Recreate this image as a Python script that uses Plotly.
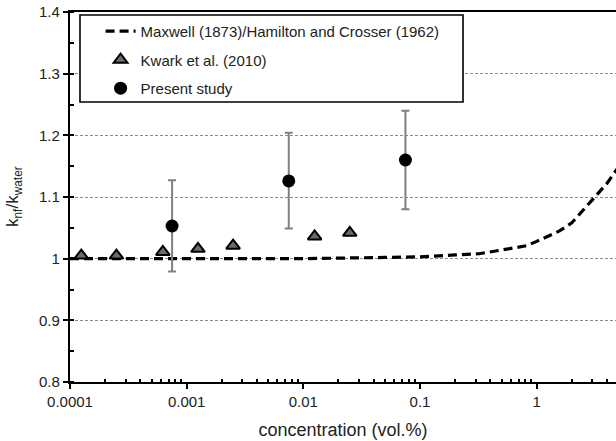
import plotly.graph_objects as go

# Maxwell / Hamilton-Crosser curve
maxwell_x = [0.0001, 0.001, 0.01, 0.05, 0.1, 0.2, 0.32, 0.5, 0.82, 1.0, 1.57, 2.0, 3.0, 4.0, 5.0]
maxwell_y = [1.000, 1.000, 1.000, 1.002, 1.003, 1.006, 1.008, 1.014, 1.021, 1.028, 1.045, 1.058, 1.096, 1.122, 1.148]

# Kwark et al. (2010)
kwark_x = [0.000125, 0.00025, 0.000625, 0.00125, 0.0025, 0.0125, 0.025]
kwark_y = [1.005, 1.005, 1.011, 1.016, 1.021, 1.036, 1.042]

# Present study
present_x = [0.00075, 0.0075, 0.075]
present_y = [1.053, 1.126, 1.160]
present_err_plus = [0.074, 0.078, 0.080]
present_err_minus = [0.074, 0.077, 0.080]

x_tickvals = [0.0001, 0.001, 0.01, 0.1, 1]
x_ticktext = ["0.0001", "0.001", "0.01", "0.1", "1"]
x_minor = [k * 10.0 ** e for e in range(-4, 1) for k in range(2, 10)]

FONT = "Liberation Sans, Arial, sans-serif"

fig = go.Figure()
fig.add_trace(go.Scatter(
    x=maxwell_x, y=maxwell_y, mode="lines",
    name="Maxwell (1873)/Hamilton and Crosser (1962)",
    line=dict(color="black", width=3.2, dash="9px,5px"),
    legendgroup="a",
))
fig.add_trace(go.Scatter(
    x=kwark_x, y=kwark_y, mode="markers", name="Kwark et al. (2010)",
    marker=dict(symbol="triangle-up", size=12, color="#6b6b6b",
                line=dict(color="black", width=2)),
    legendgroup="b",
))
fig.add_trace(go.Scatter(
    x=present_x, y=present_y, mode="markers", name="Present study",
    marker=dict(symbol="circle", size=13, color="black"),
    error_y=dict(type="data", array=present_err_plus, arrayminus=present_err_minus,
                 color="#808080", thickness=2, width=4),
    legendgroup="c",
))

fig.update_layout(
    width=616, height=441,
    margin=dict(l=70, r=0, t=12, b=59),
    paper_bgcolor="white", plot_bgcolor="white",
    font=dict(family=FONT, size=15, color="#222"),
    showlegend=True,
    legend=dict(
        x=0.056, y=0.992, xanchor="left", yanchor="top",
        bgcolor="rgba(0,0,0,0)", borderwidth=0,
        font=dict(family=FONT, size=15, color="#222"),
        tracegroupgap=6,
    ),
    shapes=[dict(
        type="rect", xref="paper", yref="paper",
        x0=0.0183, x1=0.7198, y0=0.7568, y1=0.9919,
        line=dict(color="black", width=1.6), fillcolor="white", layer="above",
    )],
    annotations=[dict(
        text="k<sub>nf</sub>/k<sub>water</sub>", textangle=-90,
        xref="paper", yref="paper", x=0, y=0.5, xanchor="center", yanchor="middle",
        xshift=-56, showarrow=False,
        font=dict(family=FONT, size=17, color="#222"),
    )],
)

fig.update_xaxes(
    type="log", range=[-4, 0.68],
    tickmode="array", tickvals=x_tickvals, ticktext=x_ticktext,
    ticks="outside", ticklen=5, tickwidth=2, tickcolor="black",
    showline=True, linecolor="black", linewidth=2.2, mirror=True,
    showgrid=False, zeroline=False,
    tickfont=dict(family=FONT, size=15, color="#222"),
    minor=dict(tickmode="array", tickvals=x_minor, ticks="inside", ticklen=3,
               tickwidth=1.5, tickcolor="black", showgrid=False),
    title=dict(text="concentration (vol.%)", font=dict(family=FONT, size=18, color="#222"),
               standoff=14),
)
fig.update_yaxes(
    range=[0.8, 1.4], dtick=0.1, tick0=0.8,
    ticks="outside", ticklen=5, tickwidth=2, tickcolor="black",
    showline=True, linecolor="black", linewidth=2.2,
    showgrid=True, gridcolor="#8a8a8a", gridwidth=1, griddash="3px,2px",
    zeroline=False,
    tickfont=dict(family=FONT, size=15, color="#222"),
    minor=dict(dtick=0.05, ticks="inside", ticklen=4, tickwidth=1.5,
               tickcolor="black", showgrid=False),
)

fig.write_html("out.html")
